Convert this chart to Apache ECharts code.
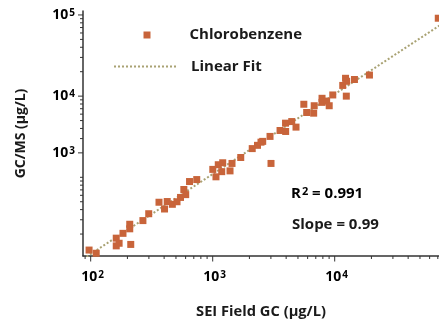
<!DOCTYPE html>
<html><head><meta charset="utf-8">
<script src="https://cdn.jsdelivr.net/npm/echarts@6/dist/echarts.min.js"></script>
<style>html,body{margin:0;padding:0;background:#fff}#c{width:439px;height:324px}</style>
</head><body><div id="c"></div>
<script>
// ---- data ----
const seriesName = 'Chlorobenzene';
const fitName = 'Linear Fit';
const seiFieldGC = [97,111,162,162,171,184,209,209,213,268,299,363,403,424,467,510,545,580,601,646,740,1002,1064,1111,1208,1186,1387,1440,1698,2109,2329,2488,2570,2951,3006,3565,3963,3954,4446,4819,5585,5893,6724,6792,7874,7874,8590,9017,9644,11640,12270,12530,12450,14520,19270,70630];
const gcms = [127,116,178,143,154,204,264,232,149,293,356,493,407,503,465,500,565,708,612,887,938,1252,1014,1429,1511,1174,1200,1482,1754,2258,2477,2710,2772,3190,1482,3776,3671,4645,4861,4153,7943,6290,6168,7617,9405,8380,8695,7617,10340,13550,16590,15240,10000,16030,18190,91170];
const fitX = [87, 72000];
const fitY = [99, 73800];
const xMajorTicks = [100, 1000, 10000];
const xMajorExp = [2, 3, 4];
const xMinorTicks = [90,200,300,400,500,600,700,800,900,2000,3000,4000,5000,6000,7000,8000,9000,20000,30000,40000,50000,60000,70000];
const yMajorTicks = [2000, 10000, 100000];
const yMajorExp = [3, 4, 5];
const yMinorTicks = [200,300,400,500,600,700,800,900,1000,3000,4000,5000,6000,7000,8000,9000,20000,30000,40000,50000,60000,70000,80000,90000];
const xTitle = 'SEI Field GC (μg/L)';
const yTitle = 'GC/MS (μg/L)';
const r2Text = ['R', '2', ' = 0.991'];
const slopeText = 'Slope = 0.99';

// ---- chart ----
const X_MIN = 86.5, X_MAX = 71600, Y_MIN = 107.3, Y_MAX = 111900;
const FONT = '"Open Sans", "DejaVu Sans", sans-serif';
const TXT = '#1a1a1a';
const AX = '#333333';
const rich = {
  b: {fontFamily: FONT, fontWeight: 'bold', fontSize: 14, color: TXT},
  s: {fontFamily: FONT, fontWeight: 'bold', fontSize: 10, color: TXT, verticalAlign: 'top', padding: [0,0,0,1]}
};
const richA = {
  b: {fontFamily: FONT, fontWeight: 'bold', fontSize: 15, color: TXT},
  s: {fontFamily: FONT, fontWeight: 'bold', fontSize: 11, color: TXT, verticalAlign: 'top', padding: [0,0,0,1]}
};

function tickSeries(values, axis, len) {
  return {
    type: 'custom', silent: true, z: 5,
    data: values.map(v => axis === 'x' ? [v, Y_MIN] : [X_MIN, v]),
    renderItem: function (params, api) {
      const p = api.coord([api.value(0), api.value(1)]);
      const shape = axis === 'x'
        ? {x1: p[0], y1: p[1], x2: p[0], y2: p[1] + len}
        : {x1: p[0], y1: p[1], x2: p[0] - len, y2: p[1]};
      return {type: 'line', shape: shape, style: {stroke: AX, lineWidth: 1}};
    }
  };
}
function labelSeries(values, exps, axis) {
  return {
    type: 'custom', silent: true, z: 5,
    data: values.map((v, i) => axis === 'x' ? [v, Y_MIN, exps[i]] : [X_MIN, v, exps[i]]),
    renderItem: function (params, api) {
      const p = api.coord([api.value(0), api.value(1)]);
      const t = '{b|10}{s|' + api.value(2) + '}';
      return axis === 'x'
        ? {type: 'text', x: p[0] + 2, y: p[1] + 14, style: {text: t, rich: rich, align: 'center', verticalAlign: 'top'}}
        : {type: 'text', x: p[0] - 8, y: p[1], style: {text: t, rich: rich, align: 'right', verticalAlign: 'middle'}};
    }
  };
}

const chart = echarts.init(document.getElementById('c'), null, {renderer: 'canvas'});
chart.setOption({
  animation: false,
  backgroundColor: '#ffffff',
  grid: {left: 83, right: 0, top: 11, bottom: 65.5, containLabel: false},
  xAxis: {
    type: 'log', logBase: 10, min: X_MIN, max: X_MAX,
    name: xTitle, nameLocation: 'middle', nameGap: 48,
    nameTextStyle: {fontFamily: FONT, fontWeight: 'bold', fontSize: 14.7, color: TXT},
    axisLine: {show: true, lineStyle: {color: AX, width: 1.5}},
    axisTick: {show: false}, axisLabel: {show: false}, splitLine: {show: false}
  },
  yAxis: {
    type: 'log', logBase: 10, min: Y_MIN, max: Y_MAX,
    name: yTitle, nameLocation: 'middle', nameGap: 55,
    nameTextStyle: {fontFamily: FONT, fontWeight: 'bold', fontSize: 14, color: TXT},
    axisLine: {show: true, lineStyle: {color: AX, width: 1.5}},
    axisTick: {show: false}, axisLabel: {show: false}, splitLine: {show: false}
  },
  legend: [
    {
      data: [seriesName], orient: 'vertical', left: 143.5, top: 27.5, padding: 0,
      itemWidth: 7, itemHeight: 7, icon: 'rect',
      textStyle: {fontFamily: FONT, fontWeight: 'bold', fontSize: 15, color: TXT, padding: [0,0,0,34]}
    },
    {
      data: [fitName], orient: 'vertical', left: 113, top: 59, padding: 0,
      itemWidth: 63, itemHeight: 7,
      itemStyle: {opacity: 0},
      lineStyle: {opacity: 1},
      textStyle: {fontFamily: FONT, fontWeight: 'bold', fontSize: 15, color: TXT, padding: [0,0,0,9]}
    }
  ],
  graphic: [
    {type: 'text', left: 291, top: 186, style: {text: '{b|' + r2Text[0] + '}{s|' + r2Text[1] + '}{b|' + r2Text[2] + '}', rich: richA}},
    {type: 'text', left: 292, top: 217, style: {text: slopeText, fontFamily: FONT, fontWeight: 'bold', fontSize: 15, fill: TXT}}
  ],
  series: [
    {
      name: fitName, type: 'line', z: 2, symbol: 'none', clip: true,
      data: fitX.map((x, i) => [x, fitY[i]]),
      lineStyle: {color: '#a9a273', width: 2, type: [2, 2]},
      itemStyle: {color: '#a9a273'}
    },
    {
      name: seriesName, type: 'scatter', z: 3, symbol: 'rect', symbolSize: 7,
      data: seiFieldGC.map((x, i) => [x, gcms[i]]),
      itemStyle: {color: '#c8643a', opacity: 1}
    },
    tickSeries(xMinorTicks, 'x', 3),
    tickSeries(xMajorTicks, 'x', 5.5),
    tickSeries(yMinorTicks, 'y', 3),
    tickSeries(yMajorTicks, 'y', 5),
    labelSeries(xMajorTicks, xMajorExp, 'x'),
    labelSeries(yMajorTicks, yMajorExp, 'y')
  ]
});
</script></body></html>
